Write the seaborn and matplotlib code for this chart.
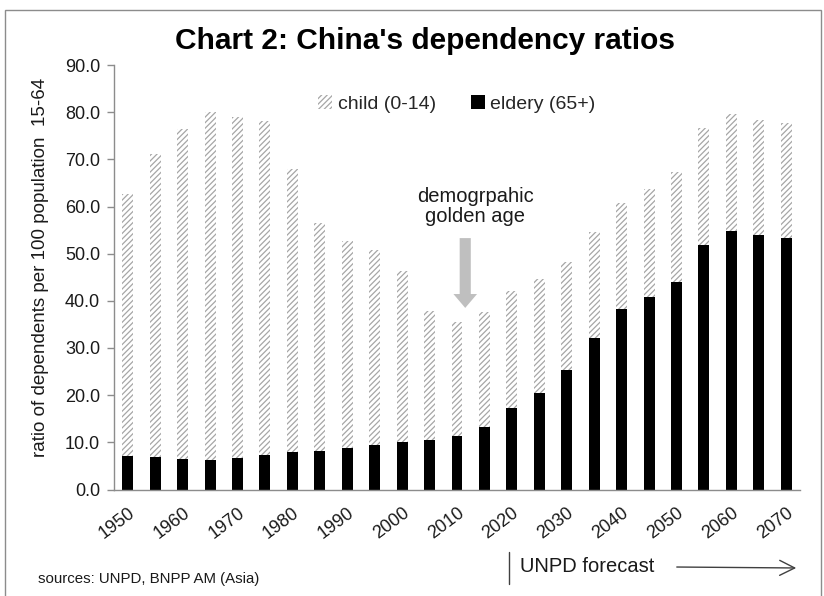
import matplotlib
matplotlib.use("Agg")
import matplotlib.pyplot as plt
import matplotlib.patches as mpatches
from matplotlib.lines import Line2D
import numpy as np
import pandas as pd
import seaborn as sns

# Dependency ratios (dependents per 100 people aged 15-64), UNPD
years = [1950, 1955, 1960, 1965, 1970, 1975, 1980, 1985, 1990, 1995, 2000,
         2005, 2010, 2015, 2020, 2025, 2030, 2035, 2040, 2045, 2050, 2055,
         2060, 2065, 2070]
eldery = [7.1, 6.9, 6.4, 6.2, 6.6, 7.3, 8.0, 8.2, 8.7, 9.4, 10.0,
          10.5, 11.4, 13.2, 17.3, 20.5, 25.3, 32.1, 38.2, 40.9, 43.9, 51.9,
          54.8, 53.9, 53.3]
child = [55.5, 64.2, 70.0, 73.8, 72.4, 70.9, 59.9, 48.3, 43.9, 41.3, 36.3,
         27.4, 24.2, 24.4, 24.8, 24.1, 23.0, 22.4, 22.6, 22.8, 23.5, 24.8,
         24.8, 24.5, 24.4]
y_ticks = [0, 10, 20, 30, 40, 50, 60, 70, 80, 90]
x_labels = ["1950", "1960", "1970", "1980", "1990", "2000", "2010",
            "2020", "2030", "2040", "2050", "2060", "2070"]

sns.set_style("white")
plt.rcParams["font.family"] = ["Liberation Sans", "DejaVu Sans"]
plt.rcParams["hatch.linewidth"] = 0.9

HATCH_GREY = "#a6a6a6"
AXIS_GREY = "#8c8c8c"
TEXT = "#1a1a1a"

df = pd.DataFrame({
    "year": [str(y) for y in years],
    "child": child,
    "eldery": eldery,
})
df["total"] = df["child"] + df["eldery"]

fig = plt.figure(figsize=(8.24, 5.96), dpi=100)
ax = fig.add_axes([114 / 824, 1 - 489.5 / 596, 686 / 824, 424.5 / 596])

# child share stacked on top of the elderly share
sns.barplot(data=df, x="year", y="total", ax=ax, width=0.4, saturation=1,
            color="white", edgecolor=HATCH_GREY, linewidth=0, hatch="//////")
sns.barplot(data=df, x="year", y="eldery", ax=ax, width=0.4, saturation=1,
            color="black", linewidth=0)

ax.set_xlim(-0.5, len(years) - 0.5)
ax.set_ylim(0, 90)
ax.set_yticks(y_ticks)
ax.set_yticklabels([f"{v:.1f}" for v in y_ticks], fontsize=13, color=TEXT)

# labelled decades, tick marks on category boundaries
ax.set_xticks(np.arange(0, len(years), 2))
ax.set_xticklabels(x_labels, rotation=37, ha="right", va="top",
                   rotation_mode="anchor", fontsize=13, color=TEXT)
ax.set_xticks(np.arange(-0.5, len(years), 1), minor=True)
ax.tick_params(axis="x", which="major", length=0, pad=11)
ax.tick_params(axis="x", which="minor", length=5, width=1, color=AXIS_GREY,
               direction="out")
ax.tick_params(axis="y", length=5, width=1, color=AXIS_GREY, direction="out",
               pad=5, left=True)
ax.set_xlabel("")
ax.set_ylabel("ratio of dependents per 100 population  15-64", fontsize=13.5,
              color=TEXT)
ax.yaxis.set_label_coords(-0.095, 0.524)

for side in ("top", "right"):
    ax.spines[side].set_visible(False)
for side in ("left", "bottom"):
    ax.spines[side].set_color(AXIS_GREY)
    ax.spines[side].set_linewidth(1)

handles = [
    mpatches.Patch(facecolor="white", edgecolor=HATCH_GREY, linewidth=0,
                   hatch="//////", label="child (0-14)"),
    mpatches.Patch(facecolor="black", edgecolor="black", linewidth=0,
                   label="eldery (65+)"),
]
ax.legend(handles=handles, loc="center", bbox_to_anchor=(0.5, 0.908),
          ncol=2, frameon=False, fontsize=14, handlelength=0.7,
          handleheight=0.7, handletextpad=0.3, columnspacing=1.8)

ax.text(12.66, 60, "demogrpahic\ngolden age", ha="center", va="center",
        fontsize=14.5, color=TEXT, linespacing=1.1)
ax.annotate("", xy=(12.3, 38.5), xytext=(12.3, 53.3),
            arrowprops=dict(arrowstyle="simple,head_length=1.0,head_width=1.7,tail_width=0.8",
                            color="#bfbfbf", mutation_scale=10, shrinkA=0, shrinkB=0,
                            linewidth=0))

fig.text(425 / 824, 1 - 41 / 596, "Chart 2: China's dependency ratios",
         ha="center", va="center", fontsize=21.5, fontweight="bold", color="black")

fig.text(520 / 824, 1 - 566 / 596, "UNPD forecast", ha="left", va="center",
         fontsize=14.5, color=TEXT)
fig.add_artist(Line2D([509 / 824, 509 / 824], [1 - 552 / 596, 1 - 584 / 596],
                      transform=fig.transFigure, color="#404040", linewidth=1))
fig.add_artist(mpatches.FancyArrowPatch((674 / 824, 1 - 567 / 596),
                                        (799 / 824, 1 - 568 / 596),
                                        transform=fig.transFigure,
                                        arrowstyle="->,head_length=0.9,head_width=0.45",
                                        mutation_scale=12, color="#404040",
                                        linewidth=1))
fig.text(38 / 824, 1 - 579 / 596, "sources: UNPD, BNPP AM (Asia)", ha="left",
         va="center", fontsize=10.8, color=TEXT)

# outer frame
fig.add_artist(mpatches.Rectangle((5 / 824, -0.01), 816 / 824, 1 - 10 / 596 + 0.01,
                                  transform=fig.transFigure, fill=False,
                                  edgecolor=AXIS_GREY, linewidth=1))

fig.savefig("out.png", dpi=100)
